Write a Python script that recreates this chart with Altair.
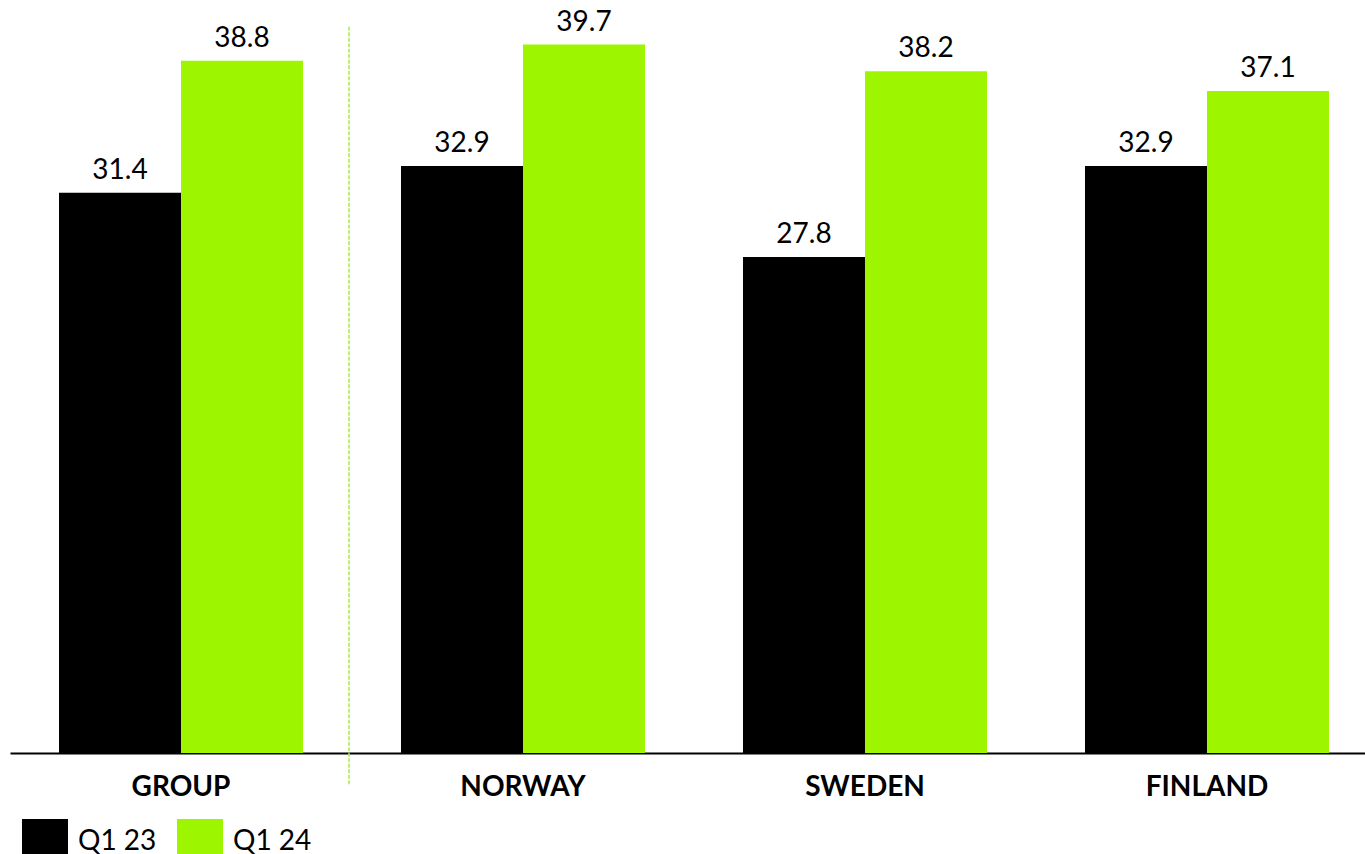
import altair as alt
import pandas as pd

categories = ["GROUP", "NORWAY", "SWEDEN", "FINLAND"]
series = ["Q1 23", "Q1 24"]
q1_23 = [31.4, 32.9, 27.8, 32.9]
q1_24 = [38.8, 39.7, 38.2, 37.1]
colors = ["#000000", "#9ef500"]

rows = []
for c, a, b in zip(categories, q1_23, q1_24):
    rows.append({"cat": c, "series": series[0], "value": a})
    rows.append({"cat": c, "series": series[1], "value": b})
df = pd.DataFrame(rows)

FONT = "Lato"

x = alt.X(
    "cat:N",
    sort=categories,
    title=None,
    scale=alt.Scale(paddingInner=0.2865, paddingOuter=0.1433, range=[0, 1368]),
    axis=alt.Axis(
        domainColor="#000000",
        domainWidth=2,
        ticks=False,
        labelAngle=0,
        labelFont=FONT,
        labelFontSize=28,
        labelFontWeight="bold",
        labelColor="#000000",
        labelPadding=20,
        grid=False,
    ),
)
y = alt.Y("value:Q", scale=alt.Scale(domain=[0, 42.2], nice=False, zero=True), axis=None)

base = alt.Chart(df)

bars = base.mark_bar().encode(
    x=x,
    xOffset=alt.XOffset("series:N", sort=series),
    y=y,
    color=alt.Color(
        "series:N",
        sort=series,
        scale=alt.Scale(domain=series, range=colors),
        legend=alt.Legend(
            title=None,
            orient="none",
            legendX=12,
            legendY=819,
            direction="horizontal",
            symbolType="square",
            symbolSize=2116,
            symbolStrokeWidth=0,
            symbolOpacity=1,
            labelFont=FONT,
            labelFontSize=28,
            labelColor="#000000",
            labelOffset=10,
            columnPadding=20,
            padding=0,
        ),
    ),
)

labels = base.mark_text(
    baseline="alphabetic", dy=-14, font=FONT, fontSize=28, color="#000000"
).encode(
    x=alt.X("cat:N", sort=categories),
    xOffset=alt.XOffset("series:N", sort=series),
    y=y,
    text=alt.Text("value:Q", format=".1f"),
)

sep_df = pd.DataFrame({"cat": ["GROUP"], "top": [40.7]})
sep = alt.Chart(sep_df).mark_rule(
    color="#a6ee3c", strokeWidth=1.5, strokeDash=[4, 1.5], xOffset=46
).encode(
    x=alt.X("cat:N", sort=categories, bandPosition=1),
    y=alt.Y("top:Q"),
    y2=alt.value(785),
)

chart = (
    alt.layer(bars, labels, sep)
    .properties(
        width=1355,
        height=753,
        autosize=alt.AutoSizeParams(type="none"),
        padding={"left": 10, "top": 0, "right": 0, "bottom": 101},
    )
    .configure_view(stroke=None)
)

chart.save("out.html", embed_options={"renderer": "svg", "actions": False})
